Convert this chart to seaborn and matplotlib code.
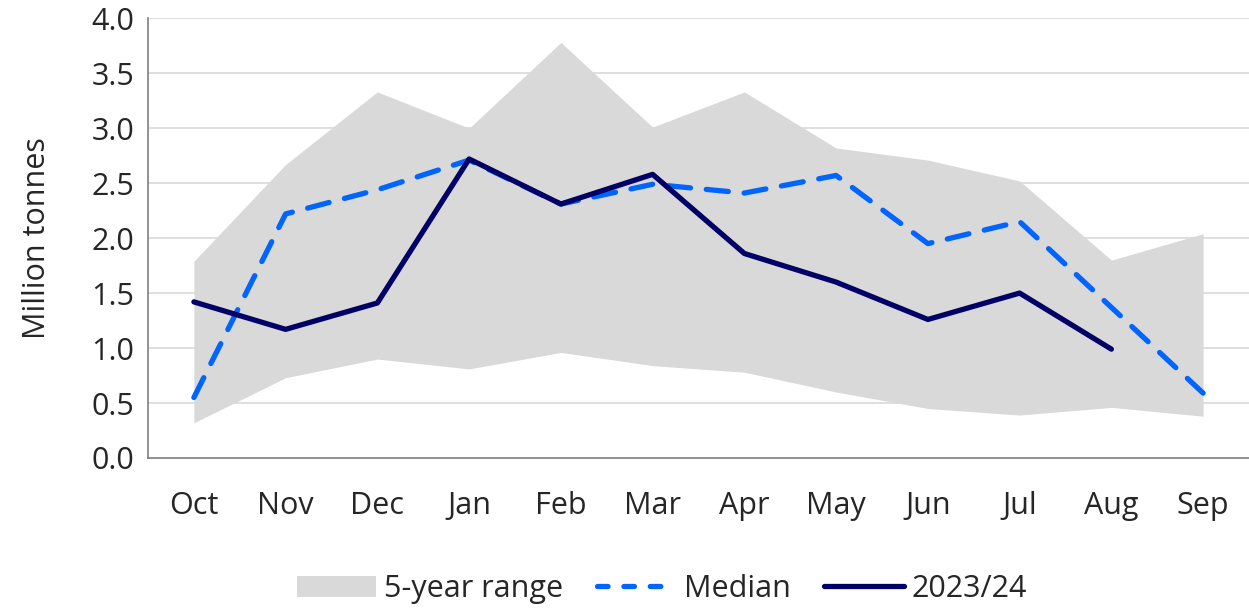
import matplotlib
matplotlib.use("Agg")
import matplotlib.pyplot as plt
import seaborn as sns
import pandas as pd
from matplotlib.patches import Patch
from matplotlib.lines import Line2D

# Data
months = ["Oct", "Nov", "Dec", "Jan", "Feb", "Mar", "Apr", "May", "Jun", "Jul", "Aug", "Sep"]
range_high = [1.79, 2.67, 3.33, 3.00, 3.78, 3.01, 3.33, 2.82, 2.71, 2.52, 1.80, 2.04]
range_low = [0.32, 0.73, 0.90, 0.81, 0.96, 0.84, 0.78, 0.60, 0.45, 0.39, 0.46, 0.38]
median = [0.55, 2.22, 2.44, 2.71, 2.31, 2.49, 2.41, 2.57, 1.95, 2.15, 1.37, 0.59]
season_2324 = [1.42, 1.17, 1.41, 2.72, 2.31, 2.58, 1.86, 1.60, 1.26, 1.50, 0.99]

FILL = "#d9d9d9"
MEDIAN_COLOR = "#0064ff"
SEASON_COLOR = "#000066"
FS = 22

sns.set_theme(style="white")
plt.rcParams["font.family"] = ["Open Sans", "DejaVu Sans"]

df = pd.DataFrame({"x": range(len(months)), "median": median,
                   "low": range_low, "high": range_high})
df_s = pd.DataFrame({"x": range(len(season_2324)), "val": season_2324})

fig = plt.figure(figsize=(12.49, 6.09), dpi=100)
ax = fig.add_axes([0.1185, 0.248, 0.8815, 0.722])

ax.fill_between(df["x"], df["low"], df["high"], color=FILL, linewidth=0, zorder=1)
sns.lineplot(data=df, x="x", y="median", ax=ax, color=MEDIAN_COLOR, linewidth=3.8,
             zorder=3, estimator=None)
ax.lines[-1].set_dashes([4.2, 3.0])
ax.lines[-1].set_dash_capstyle("round")
sns.lineplot(data=df_s, x="x", y="val", ax=ax, color=SEASON_COLOR, linewidth=3.8,
             zorder=4, estimator=None)
ax.lines[-1].set_solid_capstyle("round")

ax.set_xlim(-0.5, 11.5)
ax.set_ylim(0, 4.0)
ax.set_yticks([i * 0.5 for i in range(9)])
ax.set_yticklabels([f"{i * 0.5:.1f}" for i in range(9)])
ax.set_xticks(range(len(months)))
ax.set_xticklabels(months)
ax.set_xticks([i - 0.5 for i in range(len(months) + 1)], minor=True)
ax.tick_params(axis="x", which="major", length=0, pad=24, labelsize=FS)
ax.tick_params(axis="x", which="minor", length=10, width=1, color="#555555", direction="out")
ax.tick_params(axis="y", length=6, width=1, color="#555555", direction="out", labelsize=FS, pad=4)
ax.grid(axis="y", color="#d9d9d9", linewidth=1.2, zorder=0)
ax.set_axisbelow(True)
ax.set_xlabel("")
ax.set_ylabel("Million tonnes", fontsize=FS, labelpad=28)

for side in ["top", "right"]:
    ax.spines[side].set_visible(False)
for side in ["left", "bottom"]:
    ax.spines[side].set_color("#808080")
    ax.spines[side].set_linewidth(1.2)

handles = [
    Patch(facecolor=FILL, edgecolor="none", label="5-year range"),
    Line2D([0], [0], color=MEDIAN_COLOR, linewidth=3.8, dashes=[2.0, 3.0],
           dash_capstyle="round", label="Median"),
    Line2D([0], [0], color=SEASON_COLOR, linewidth=3.8, solid_capstyle="round", label="2023/24"),
]
fig.legend(handles=handles, loc="center", bbox_to_anchor=(0.53, 0.033), ncol=3,
           frameon=False, fontsize=FS, handlelength=2.6, handletextpad=0.25,
           columnspacing=1.1, borderpad=0)

fig.savefig("out.png", dpi=100)
